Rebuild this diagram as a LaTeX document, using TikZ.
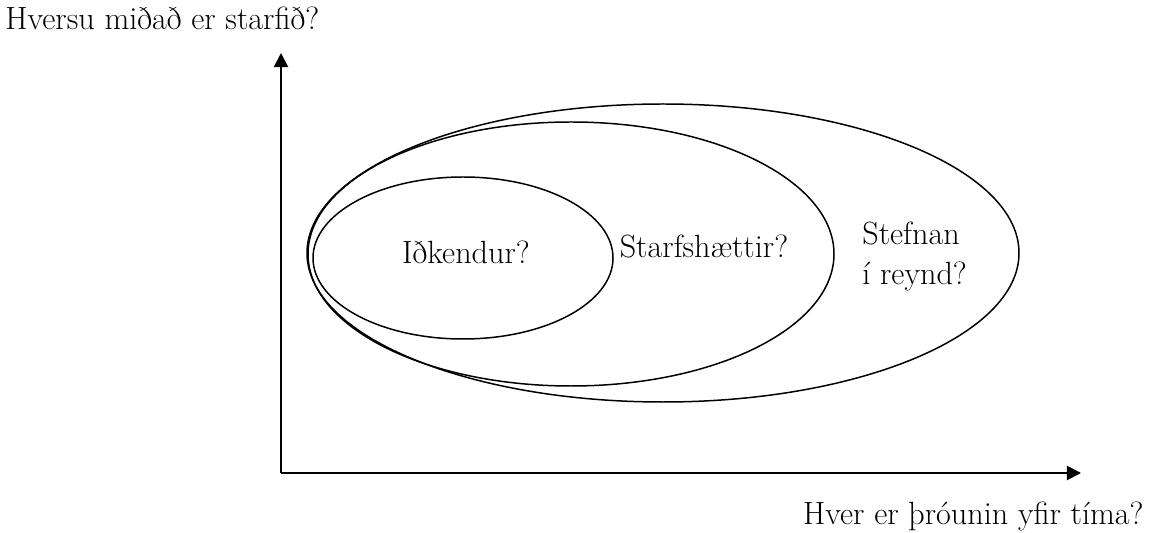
\documentclass[tikz,border=0pt]{standalone}
\usepackage{fontspec}
\usetikzlibrary{arrows.meta}

\begin{document}
\begin{tikzpicture}[x=0.02cm,y=-0.02cm,>={Triangle[length=8pt,width=8pt]},
        axis/.style={line width=1.1pt},
        ring/.style={line width=0.85pt},
        lbl/.style={font=\fontsize{18.3}{22.8}\selectfont,inner sep=0pt}]
        \useasboundingbox (0,0) rectangle (1150,533);

        % draw the axes
        \coordinate (origin) at (281,473);
        \coordinate (xend) at (1081,473);
        \coordinate (yend) at (281,53);
        \draw[axis,->] (origin) -- (xend);
        \draw[axis,->] (origin) -- (yend);

        % axis labels
        \node[lbl,anchor=base west] (ylabel) at (5,30) {Hversu miðað er starfið?};
        \node[lbl,anchor=base east] (xlabel) at (1144,524) {Hver er þróunin yfir tíma?};

        % draw the ellipses
        \draw[ring] (663,253) ellipse (356 and 149);
        \draw[ring] (571,254) ellipse (263 and 132);
        \draw[ring] (463,258) ellipse (150 and 81);

        % the text inside each ellipse
        \node[lbl,anchor=base] (inner) at (466,264) {Iðkendur?};
        \node[lbl,anchor=base] (middle) at (704,258) {Starfshættir?};
        % base is the last line here
        \node[lbl,anchor=base west,align=left] (outer) at (862,285) {Stefnan\\í reynd?};
\end{tikzpicture}
\end{document}
